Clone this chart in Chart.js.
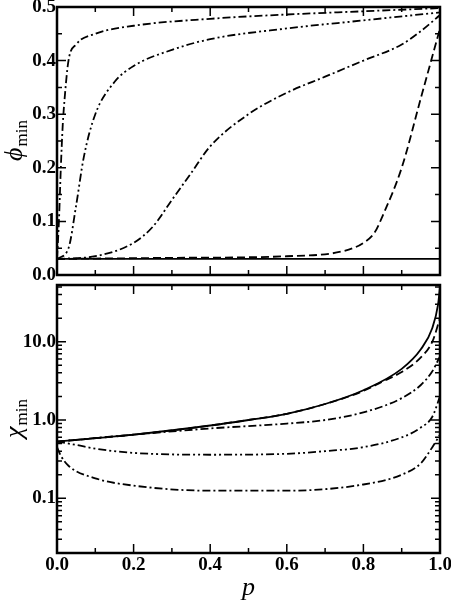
<!DOCTYPE html>
<html>
<head>
<meta charset="utf-8">
<script src="https://cdn.jsdelivr.net/npm/chart.js@4/dist/chart.umd.min.js"></script>
<style>
body { margin: 0; background: #fff; }
#top { position: absolute; left: 0; top: 0; width: 451px; height: 284px; }
#bottom { position: absolute; left: 0; top: 278px; width: 451px; height: 322px; }
</style>
</head>
<body>
<div id="top"><canvas id="chartTop"></canvas></div>
<div id="bottom"><canvas id="chartBottom"></canvas></div>
<script>
// top panel: phi_min vs p
const phiX_solid = [0, 1];
const phiY_solid = [0.03, 0.03];
const phiX_a = [0, 0.005, 0.01, 0.015, 0.02, 0.03, 0.05, 0.1, 0.2, 0.4, 0.6, 0.8, 1.0];
const phiY_a = [0.03, 0.1, 0.2, 0.28, 0.33, 0.4, 0.43, 0.45, 0.465, 0.478, 0.486, 0.492, 0.498];
const phiX_b = [0, 0.03, 0.05, 0.07, 0.1, 0.15, 0.2, 0.3, 0.4, 0.6, 0.8, 1.0];
const phiY_b = [0.03, 0.05, 0.13, 0.22, 0.30, 0.36, 0.39, 0.42, 0.44, 0.46, 0.475, 0.49];
const phiX_c = [0, 0.1, 0.2, 0.25, 0.3, 0.35, 0.4, 0.5, 0.6, 0.7, 0.8, 0.9, 0.95, 1.0];
const phiY_c = [0.03, 0.035, 0.06, 0.09, 0.14, 0.19, 0.24, 0.30, 0.34, 0.37, 0.40, 0.43, 0.455, 0.485];
const phiX_d = [0, 0.3, 0.6, 0.75, 0.8, 0.83, 0.85, 0.9, 0.95, 1.0];
const phiY_d = [0.03, 0.032, 0.035, 0.045, 0.06, 0.08, 0.11, 0.2, 0.33, 0.46];

// bottom panel: chi_min vs p (log)
const chiX_solid = [0, 0.2, 0.4, 0.5, 0.6, 0.7, 0.8, 0.9, 0.95, 0.98, 0.995, 1.0];
const chiY_solid = [0.53, 0.65, 0.85, 1.0, 1.2, 1.6, 2.4, 4.5, 8, 15, 30, 50];
const chiX_d = [0, 0.2, 0.4, 0.5, 0.6, 0.7, 0.8, 0.85, 0.9, 0.95, 0.98, 1.0];
const chiY_d = [0.53, 0.65, 0.85, 1.0, 1.2, 1.6, 2.35, 3.1, 4.1, 6.3, 10, 20];
const chiX_c = [0, 0.2, 0.4, 0.6, 0.7, 0.8, 0.9, 0.95, 0.98, 1.0];
const chiY_c = [0.53, 0.65, 0.78, 0.9, 1.0, 1.25, 1.9, 2.8, 4.2, 6.5];
const chiX_b = [0, 0.05, 0.1, 0.2, 0.4, 0.6, 0.7, 0.8, 0.9, 0.95, 0.98, 1.0];
const chiY_b = [0.53, 0.48, 0.43, 0.38, 0.36, 0.37, 0.4, 0.45, 0.6, 0.8, 1.1, 2.0];
const chiX_a = [0, 0.01, 0.03, 0.1, 0.2, 0.4, 0.6, 0.8, 0.9, 0.95, 0.98, 1.0];
const chiY_a = [0.45, 0.35, 0.26, 0.18, 0.145, 0.125, 0.125, 0.15, 0.2, 0.28, 0.45, 0.65];

const xTicks = [0, 0.2, 0.4, 0.6, 0.8, 1.0];
const phiTicks = [0, 0.1, 0.2, 0.3, 0.4, 0.5];
const chiTicks = [0.1, 1, 10];

const FONT = 'bold 19px "Liberation Serif", "DejaVu Serif", serif';
const DASH = { solid: [], dashed: [8, 4], dashDot: [8, 3, 2, 3], dashDotDot: [8, 3, 2, 3, 2, 3] };

function pts(xs, ys) {
    return xs.map((x, i) => ({ x: x, y: ys[i] }));
}

function line(xs, ys, dash) {
    return {
        data: pts(xs, ys), borderColor: '#000', borderWidth: 1.8, borderDash: dash,
        pointRadius: 0, cubicInterpolationMode: 'monotone', fill: false
    };
}

// inward ticks, frame, tick labels and axis titles
function framePlugin(opts) {
    return {
        id: 'frame',
        afterDraw(chart) {
            const ctx = chart.ctx;
            const a = chart.chartArea;
            const xs = chart.scales.x, ys = chart.scales.y;
            ctx.save();
            ctx.strokeStyle = '#000';
            ctx.lineWidth = 2.5;
            ctx.strokeRect(a.left, a.top, a.right - a.left, a.bottom - a.top);
            ctx.lineWidth = 1.5;
            function tickX(v, len) {
                const px = xs.getPixelForValue(v);
                ctx.beginPath();
                ctx.moveTo(px, a.bottom); ctx.lineTo(px, a.bottom - len);
                ctx.moveTo(px, a.top); ctx.lineTo(px, a.top + len);
                ctx.stroke();
            }
            function tickY(v, len) {
                const py = ys.getPixelForValue(v);
                ctx.beginPath();
                ctx.moveTo(a.left, py); ctx.lineTo(a.left + len, py);
                ctx.moveTo(a.right, py); ctx.lineTo(a.right - len, py);
                ctx.stroke();
            }
            for (let i = 0; i <= 10; i++) tickX(i / 10, i % 2 === 0 ? 9 : 5);
            opts.yMinor.forEach(v => tickY(v, 5));
            opts.yMajor.forEach(v => tickY(v, 9));

            ctx.fillStyle = '#000';
            ctx.font = FONT;
            ctx.textAlign = 'right';
            ctx.textBaseline = 'middle';
            opts.yMajor.forEach(v => {
                ctx.fillText(opts.yFmt(v), a.left - 1, ys.getPixelForValue(v));
            });
            if (opts.xLabels) {
                ctx.textAlign = 'center';
                ctx.textBaseline = 'top';
                xTicks.forEach(v => ctx.fillText(v.toFixed(1), xs.getPixelForValue(v), a.bottom + 3));
                ctx.font = 'italic 26px "Liberation Serif", "DejaVu Serif", serif';
                ctx.fillText('p', (a.left + a.right) / 2, a.bottom + 22);
            }
            // y title with subscript
            ctx.translate(22, (a.top + a.bottom) / 2);
            ctx.rotate(-Math.PI / 2);
            ctx.textAlign = 'left';
            ctx.textBaseline = 'alphabetic';
            ctx.font = 'italic 26px "Liberation Serif", "DejaVu Serif", serif';
            const w1 = ctx.measureText(opts.yTitle).width;
            ctx.font = '17px "Liberation Serif", "DejaVu Serif", serif';
            const w2 = ctx.measureText('min').width;
            const x0 = -(w1 + w2) / 2;
            ctx.font = 'italic 26px "Liberation Serif", "DejaVu Serif", serif';
            ctx.fillText(opts.yTitle, x0, 0);
            ctx.font = '17px "Liberation Serif", "DejaVu Serif", serif';
            ctx.fillText('min', x0 + w1 + 1, 5);
            ctx.restore();
        }
    };
}

function baseOptions(yScale, topPad, bottomPad) {
    return {
        responsive: true, maintainAspectRatio: false, animation: false,
        layout: { padding: { left: 57, right: 11, top: topPad, bottom: bottomPad } },
        plugins: { legend: { display: false }, tooltip: { enabled: false } },
        scales: {
            x: { type: 'linear', min: 0, max: 1, display: false },
            y: Object.assign({ display: false }, yScale)
        }
    };
}

let minorPhi = [];
for (let i = 1; i < 10; i += 2) minorPhi.push(i * 0.05);
new Chart(document.getElementById('chartTop'), {
    type: 'line',
    data: {
        datasets: [
            line(phiX_solid, phiY_solid, DASH.solid),
            line(phiX_a, phiY_a, DASH.dashDot),
            line(phiX_b, phiY_b, DASH.dashDotDot),
            line(phiX_c, phiY_c, DASH.dashDot),
            line(phiX_d, phiY_d, DASH.dashed)
        ]
    },
    options: baseOptions({ type: 'linear', min: 0, max: 0.5 }, 7, 9),
    plugins: [framePlugin({ yMajor: phiTicks, yMinor: minorPhi, yFmt: v => v.toFixed(1), xLabels: false, yTitle: 'ϕ' })]
});

let minorChi = [];
[0.01, 0.1, 1, 10].forEach(d => { for (let k = 2; k <= 9; k++) if (d * k >= 0.02 && d * k <= 53) minorChi.push(d * k); });
new Chart(document.getElementById('chartBottom'), {
    type: 'line',
    data: {
        datasets: [
            line(chiX_solid, chiY_solid, DASH.solid),
            line(chiX_d, chiY_d, DASH.dashed),
            line(chiX_c, chiY_c, DASH.dashDot),
            line(chiX_b, chiY_b, DASH.dashDotDot),
            line(chiX_a, chiY_a, DASH.dashDot)
        ]
    },
    options: baseOptions({ type: 'logarithmic', min: 0.02, max: 53 }, 7, 47),
    plugins: [framePlugin({ yMajor: chiTicks, yMinor: minorChi, yFmt: v => v.toFixed(1), xLabels: true, yTitle: 'χ' })]
});
</script>
</body>
</html>
